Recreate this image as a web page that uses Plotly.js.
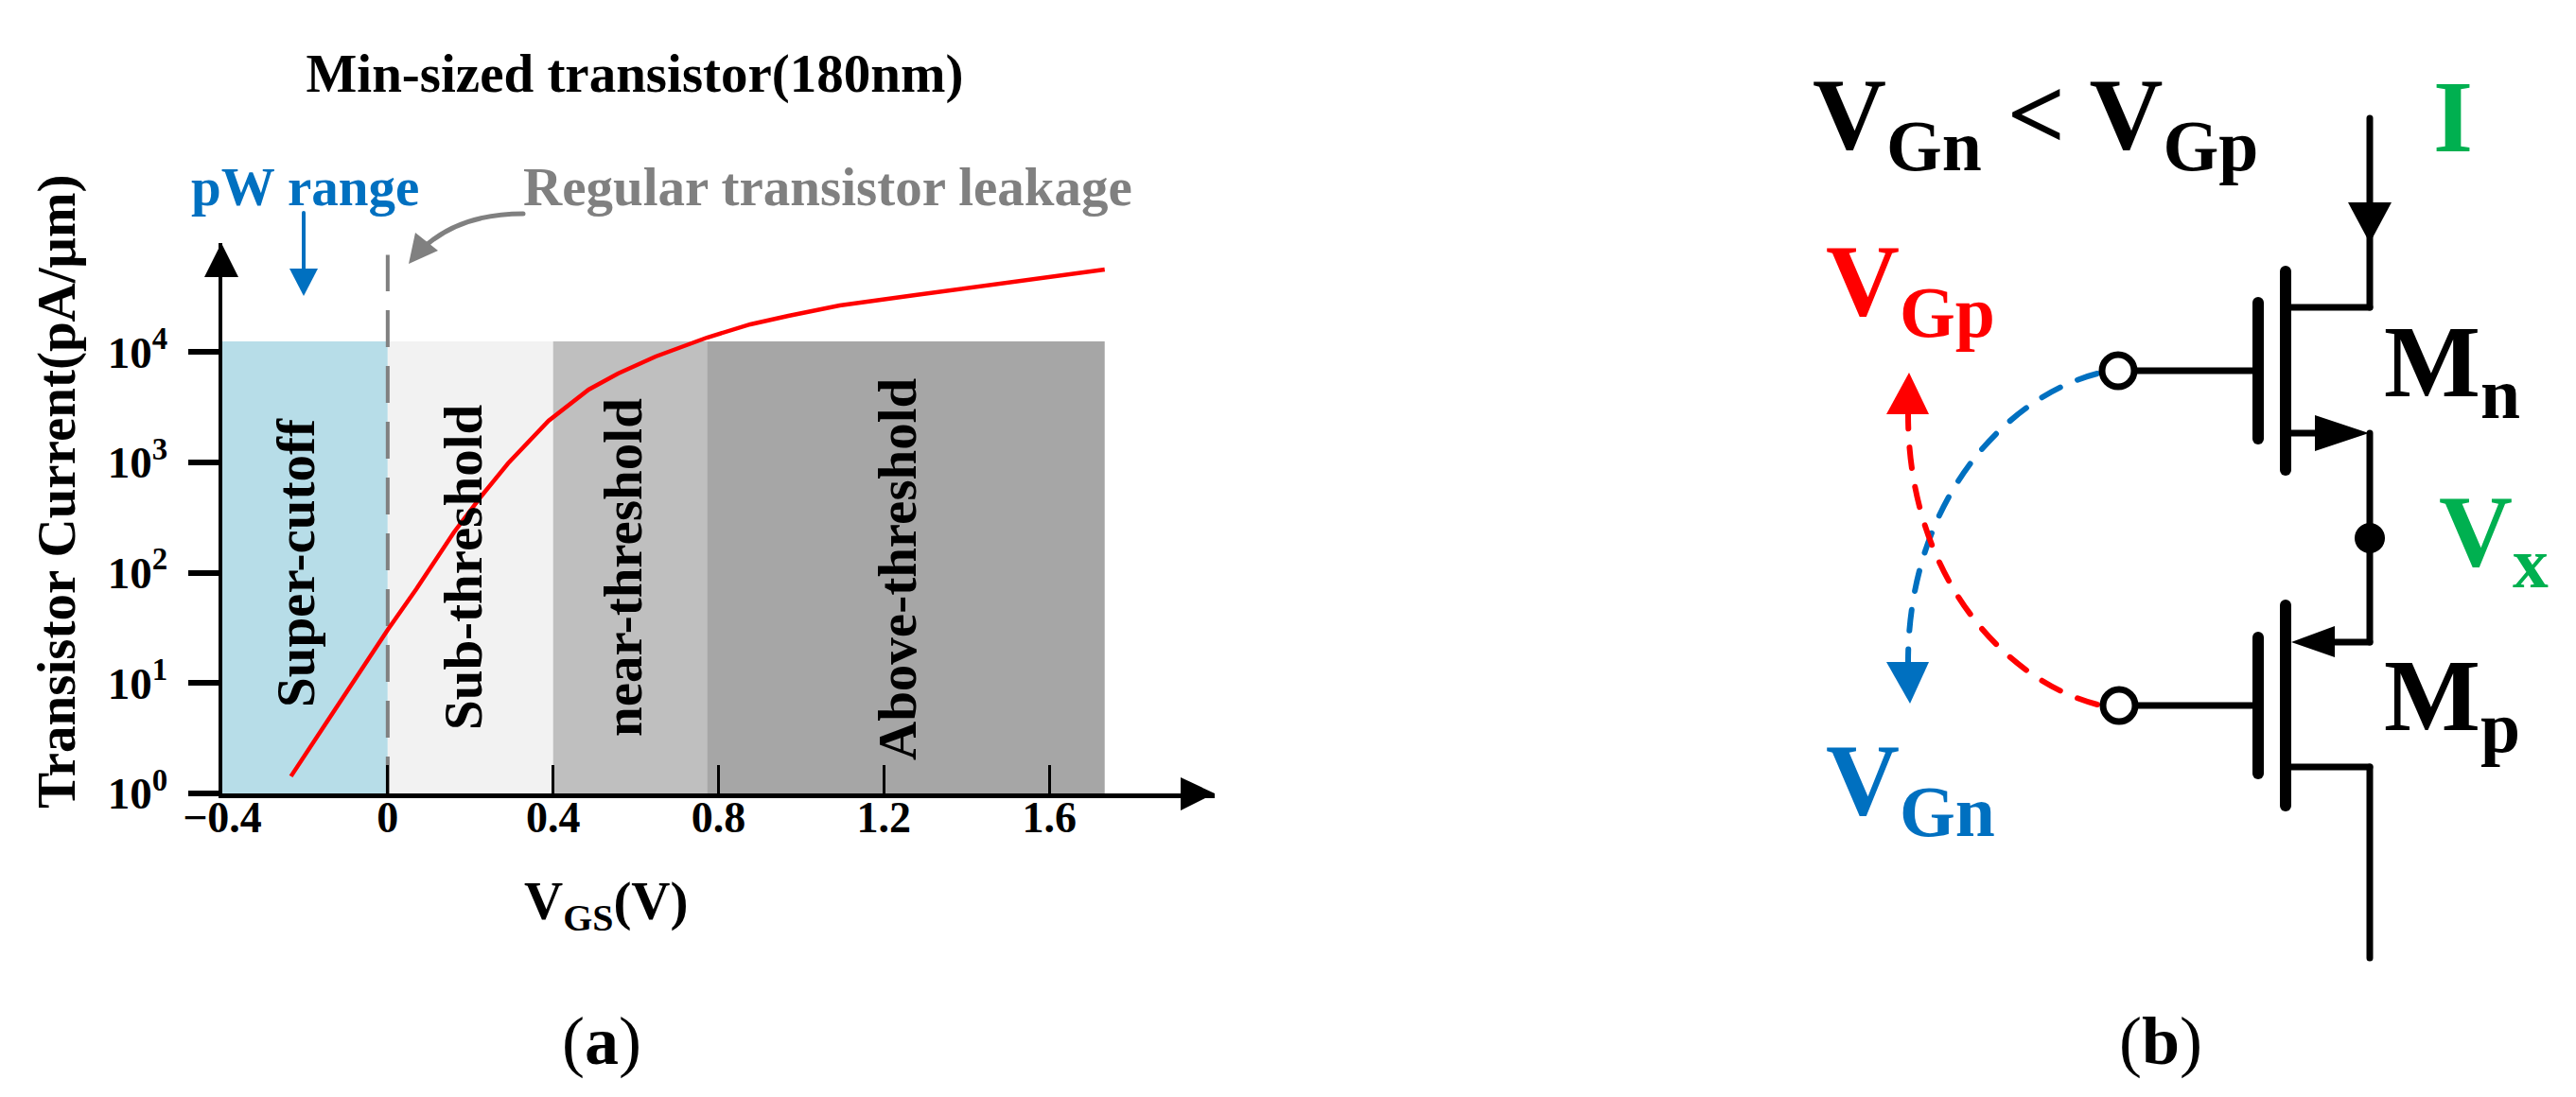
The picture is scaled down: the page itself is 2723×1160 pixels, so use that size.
<!DOCTYPE html>
<html>
<head>
<meta charset="utf-8">
<script src="https://cdn.plot.ly/plotly-3.0.1.min.js"></script>
<style>
  html, body { margin: 0; padding: 0; background: #fff; }
  .shapelayer path { stroke-linecap: round; }
</style>
</head>
<body>
<div id="chart" style="width:2723px;height:1160px"></div>
<script>
const PAGE_W = 2723;
const PAGE_H = 1160;
const SERIF = '"Liberation Serif", "Times New Roman", serif';

// transfer curve
const vgs = [-0.234, 0, 0.069, 0.108, 0.16, 0.222, 0.291, 0.389, 0.486, 0.557, 0.648, 0.772, 0.877, 0.969, 1.093, 1.276, 1.505, 1.734];
const current = [1.43, 30.4, 71, 119, 232, 471, 979, 2377, 4560, 6380, 9100, 13490, 17800, 21230, 26400, 32800, 43200, 55900];

// operating regions behind the curve
const regionEdges = [-0.4, 0, 0.4, 0.772, 1.734];
const regionColors = ["#b7dde8", "#f2f2f2", "#bfbfbf", "#a6a6a6"];
const regionLabels = ["Super-cutoff", "Sub-threshold", "near-threshold", "Above-threshold"];
const regionLabelX = [312, 489, 658, 948];
const regionLabelY = [595, 600, 600, 601];
const regionTop = 12470;
const regionFloor = 1;

const xTicks = [-0.4, 0, 0.4, 0.8, 1.2, 1.6];
const xTickLabels = ["\u22120.4", "0", "0.4", "0.8", "1.2", "1.6"];
const yTicks = [1, 10, 100, 1000, 10000];
const yTickLabels = ["10<sup>0</sup>", "10<sup>1</sup>", "10<sup>2</sup>", "10<sup>3</sup>", "10<sup>4</sup>"];

// leakage marker at VGS = 0
const leakageX = [0, 0];
const leakageY = [1, 76000];

// page pixels -> paper coords, margins are 0 so the paper is the whole page
const px = (x) => x / PAGE_W;
const py = (y) => 1 - y / PAGE_H;

function toPath(cmds) {
  // cmds like ["M", 10, 20, "L", 30, 40, "Z"]
  let out = [];
  let isX = true;
  cmds.forEach((c) => {
    if (typeof c === "string") { out.push(c); isX = true; }
    else { out.push(isX ? px(c) : py(c)); isX = !isX; }
  });
  return out.join(" ");
}

function wire(x0, y0, x1, y1, width, color) {
  return {
    type: "line", xref: "paper", yref: "paper",
    x0: px(x0), y0: py(y0), x1: px(x1), y1: py(y1),
    line: { color: color || "#000", width: width || 7 },
  };
}

function solid(points, color) {
  const cmds = ["M", points[0][0], points[0][1]];
  points.slice(1).forEach((p) => cmds.push("L", p[0], p[1]));
  cmds.push("Z");
  return {
    type: "path", xref: "paper", yref: "paper", path: toPath(cmds),
    fillcolor: color || "#000", line: { color: color || "#000", width: 0 },
  };
}

function curve(cmds, color, width, dash) {
  return {
    type: "path", xref: "paper", yref: "paper", path: toPath(cmds),
    fillcolor: "rgba(0,0,0,0)", line: { color, width, dash: dash || "solid" },
  };
}

function ring(cx, cy, r, width, fill, color) {
  return {
    type: "circle", xref: "paper", yref: "paper",
    x0: px(cx - r), x1: px(cx + r), y0: py(cy - r), y1: py(cy + r),
    fillcolor: fill, line: { color: color || "#000", width },
  };
}

function note(text, x, y, size, color, extra) {
  return Object.assign({
    text, x: px(x), y: py(y), xref: "paper", yref: "paper", showarrow: false,
    xanchor: "center", yanchor: "middle",
    font: { family: SERIF, size, color: color || "#000", weight: "bold" },
  }, extra || {});
}

const BLUE = "#0070c0";
const RED = "#ff0000";
const GREEN = "#00b050";
const GRAY = "#808080";

const shapes = [
  // axis arrow heads
  solid([[216, 293], [252, 293], [234, 257]]),
  solid([[1248, 822], [1248, 857], [1284, 839]]),
  // pW range arrow
  wire(321, 225, 321, 290, 4, BLUE),
  solid([[306, 284], [336, 284], [321, 313]], BLUE),
  // leakage call-out
  curve(["M", 553, 226, "Q", 490, 226, 452, 258], GRAY, 5),
  solid([[432, 279], [439, 246], [463, 265]], GRAY),

  // nMOS
  wire(2505, 125, 2505, 325),
  solid([[2482, 214], [2528, 214], [2505, 257]]),
  wire(2416, 325, 2505, 325),
  wire(2416, 287, 2416, 497, 12),
  wire(2387, 320, 2387, 464, 12),
  wire(2259, 392, 2387, 392),
  wire(2416, 458, 2450, 458),
  solid([[2447, 439], [2447, 477], [2504, 458]]),
  wire(2505, 458, 2505, 679),
  ring(2505, 569, 16, 0, "#000"),

  // pMOS
  wire(2468, 679, 2505, 679),
  solid([[2422, 679], [2468, 662], [2468, 695]]),
  wire(2416, 640, 2416, 852, 12),
  wire(2387, 674, 2387, 818, 12),
  wire(2259, 746, 2387, 746),
  wire(2416, 811, 2505, 811),
  wire(2505, 811, 2505, 1013),

  // gate swing arrows
  curve(["M", 2217, 395, "C", 2120, 420, 2017, 530, 2017, 700], BLUE, 6, "22px,20px"),
  solid([[1994, 700], [2039, 700], [2019, 744]], BLUE),
  curve(["M", 2217, 745, "C", 2120, 720, 2017, 610, 2017, 438], RED, 6, "22px,20px"),
  solid([[1994, 438], [2039, 438], [2018, 394]], RED),
  ring(2239, 392, 17, 7, "#fff"),
  ring(2240, 746, 17, 7, "#fff"),
];

const regionNotes = regionLabels.map((label, i) =>
  note(label, regionLabelX[i], regionLabelY[i], 57, "#000", { textangle: -90 })
);

const annotations = regionNotes.concat([
  note("pW range", 322, 198, 57, BLUE),
  note("Regular transistor leakage", 875, 198, 57, GRAY),
  note("Transistor Current(pA/\u03bcm)", 60, 520, 57, "#000", { textangle: -90 }),
  note("V<sub>GS</sub>(V)", 641, 957, 57),
  note('<span style="font-weight:normal">(</span>a<span style="font-weight:normal">)</span>', 636, 1101, 72),
  note('<span style="font-weight:normal">(</span>b<span style="font-weight:normal">)</span>', 2284, 1101, 72),
  note("V<sub>Gn</sub> &lt; V<sub>Gp</sub>", 2151, 128, 108),
  note("I", 2593, 123, 108, GREEN),
  note("M<sub>n</sub>", 2592, 390, 108),
  note("M<sub>p</sub>", 2592, 743, 108),
  note("V<sub>x</sub>", 2636, 569, 108, GREEN),
  note("V<sub>Gp</sub>", 2019, 304, 108, RED),
  note("V<sub>Gn</sub>", 2019, 832, 108, BLUE),
]);

const regionTraces = regionColors.map((color, i) => ({
  x: [regionEdges[i], regionEdges[i], regionEdges[i + 1], regionEdges[i + 1]],
  y: [regionFloor, regionTop, regionTop, regionFloor],
  type: "scatter",
  mode: "lines",
  fill: "toself",
  fillcolor: color,
  line: { width: 0 },
  hoverinfo: "skip",
  name: regionLabels[i],
}));

const data = regionTraces.concat([
  {
    x: leakageX,
    y: leakageY,
    type: "scatter",
    mode: "lines",
    line: { color: GRAY, width: 4, dash: "39px,20px" },
    hoverinfo: "skip",
    name: "Regular transistor leakage",
  },
  {
    x: vgs,
    y: current,
    type: "scatter",
    mode: "lines",
    line: { color: RED, width: 4.5 },
    name: "Transistor current",
  },
]);

const layout = {
  width: PAGE_W,
  height: PAGE_H,
  autosize: false,
  margin: { l: 0, r: 0, t: 0, b: 0, pad: 0 },
  paper_bgcolor: "#fff",
  plot_bgcolor: "rgba(0,0,0,0)",
  showlegend: false,
  title: {
    text: "Min-sized transistor(180nm)",
    x: 671 / PAGE_W,
    y: 1 - 77 / PAGE_H,
    xanchor: "center",
    yanchor: "middle",
    font: { family: SERIF, size: 57, color: "#000", weight: "bold" },
  },
  xaxis: {
    domain: [235 / PAGE_W, 1284 / PAGE_W],
    range: [-0.4, 2.0],
    showgrid: false,
    zeroline: false,
    showline: true,
    linecolor: "#000",
    linewidth: 5,
    ticks: "inside",
    ticklen: 30,
    tickwidth: 3,
    tickcolor: "#000",
    tickmode: "array",
    tickvals: xTicks,
    ticktext: xTickLabels,
    tickfont: { family: SERIF, size: 46, color: "#000", weight: "bold" },
    ticklabelstandoff: -19,
  },
  yaxis: {
    domain: [1 - 839 / PAGE_H, 1 - 257 / PAGE_H],
    type: "log",
    range: [0, 4.987],
    showgrid: false,
    zeroline: false,
    showline: true,
    linecolor: "#000",
    linewidth: 4.5,
    ticks: "outside",
    ticklen: 32,
    tickwidth: 6,
    tickcolor: "#000",
    tickmode: "array",
    tickvals: yTicks,
    ticktext: yTickLabels,
    tickfont: { family: SERIF, size: 47, color: "#000", weight: "bold" },
    ticklabelstandoff: 12,
  },
  shapes,
  annotations,
};

Plotly.newPlot("chart", data, layout, { displayModeBar: false, staticPlot: true });
</script>
</body>
</html>
